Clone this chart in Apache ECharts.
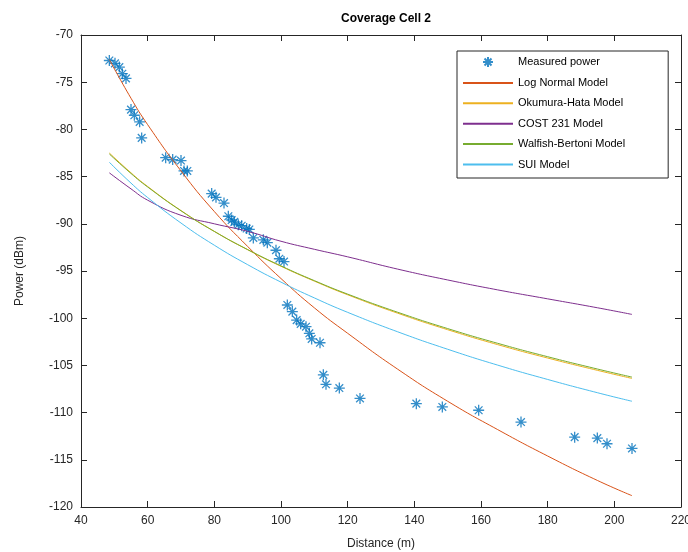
<!DOCTYPE html>
<html>
<head>
    <meta charset="utf-8">
    <title>Coverage Cell 2</title>
    <script src="https://cdn.jsdelivr.net/npm/echarts@6/dist/echarts.min.js"></script>
</head>
<body style="margin:0">
<div id="chart" style="width: 688px;height:552px;"></div>
</body>

<script type="text/javascript">

    // measured points (distance m, power dBm)
    var measDist = [48.5, 50.2, 51.5, 52.4, 53.5, 55.0, 56.0, 57.6, 58.2, 65.4, 67.5, 70.0, 70.9, 71.9,
        79.2, 80.5, 82.9, 84.2, 85.2, 86.0, 87.2, 88.2, 89.7, 90.5, 91.7, 94.7, 95.9, 98.5, 99.5, 100.9,
        101.9, 103.4, 104.7, 105.9, 107.5, 108.5, 109.2, 111.7, 112.7, 113.5, 117.5, 123.7,
        140.6, 148.4, 159.3, 172.0, 188.1, 194.9, 197.8, 205.3];
    var measPower = [-72.7, -73.0, -73.4, -74.1, -74.6, -77.9, -78.5, -79.2, -80.9, -83.0, -83.2, -83.3, -84.4, -84.4,
        -86.8, -87.2, -87.8, -89.2, -89.6, -89.8, -90.1, -90.2, -90.5, -90.6, -91.5, -91.7, -92.0, -92.8, -93.7, -94.0,
        -98.6, -99.3, -100.2, -100.6, -100.9, -101.6, -102.2, -102.6, -106.0, -107.0, -107.4, -108.5,
        -109.05, -109.4, -109.75, -111.0, -112.6, -112.7, -113.3, -113.8];

    // model curves, read at these distances
    var modelDist = [48.5, 55, 60, 70, 80, 90, 100, 110, 120, 135, 150, 165, 180, 195, 205.3];
    var logNormal = [-72.6, -76.7, -79.5, -84.4, -88.7, -92.4, -95.8, -98.9, -101.6, -105.4, -108.8, -111.8, -114.6, -117.2, -118.8];
    var okumura = [-82.5, -84.6, -86.05, -88.6, -90.8, -92.75, -94.5, -96.07, -97.52, -99.47, -101.22, -102.8, -104.22, -105.53, -106.38];
    var cost231 = [-84.6, -86.3, -87.5, -89.1, -90.0, -90.8, -91.85, -92.7, -93.5, -94.8, -95.95, -97.0, -97.95, -98.9, -99.6];
    var walfish = [-82.6, -84.67, -86.1, -88.62, -90.81, -92.73, -94.46, -96.02, -97.45, -99.37, -101.1, -102.66, -104.08, -105.39, -106.24];
    var sui = [-83.48, -85.69, -87.22, -89.92, -92.27, -94.33, -96.18, -97.85, -99.38, -101.44, -103.29, -104.97, -106.49, -107.9, -108.8];

    var xTicks = [40, 220, 20];
    var yTicks = [-120, -70, 5];

    function pairs(xs, ys) {
        return xs.map(function (x, i) { return [x, ys[i]]; });
    }

    var star = 'path://M0,5L10,5M5,0L5,10M1.5,1.5L8.5,8.5M1.5,8.5L8.5,1.5';
    var axisColor = '#262626';

    function lineSeries(name, data, color) {
        return {
            name: name, type: 'line', data: pairs(modelDist, data),
            symbol: 'none', smooth: true,
            lineStyle: {color: color, width: 1}, itemStyle: {color: color}
        };
    }

    function axisBase(show) {
        return {
            axisLine: {show: true, onZero: false, lineStyle: {color: axisColor, width: 1}},
            axisTick: {show: true, inside: true, length: 6, lineStyle: {color: axisColor}},
            axisLabel: {show: show, color: axisColor, fontSize: 12, fontFamily: 'Liberation Sans'},
            splitLine: {show: false}
        };
    }

    var noMark = {opacity: 0};

    var chart = echarts.init(document.getElementById('chart'));

    chart.setOption({
        animation: false,
        backgroundColor: '#fff',
        title: {
            text: 'Coverage Cell 2', left: 381, top: 8, textAlign: 'center',
            textStyle: {fontSize: 12, fontWeight: 'bold', color: '#000', fontFamily: 'Liberation Sans'}
        },
        legend: {
            orient: 'vertical', left: 457, top: 51,
            padding: [5, 43, 8, 5], itemWidth: 50, itemHeight: 10, itemGap: 9.4,
            borderColor: axisColor, borderWidth: 1, backgroundColor: '#fff',
            selectedMode: false,
            textStyle: {fontSize: 11, color: '#000', fontFamily: 'Liberation Sans'},
            data: [
                {name: 'Measured power'},
                {name: 'Log Normal Model', itemStyle: noMark},
                {name: 'Okumura-Hata Model', itemStyle: noMark},
                {name: 'COST 231 Model', itemStyle: noMark},
                {name: 'Walfish-Bertoni Model', itemStyle: noMark},
                {name: 'SUI Model', itemStyle: noMark}
            ]
        },
        grid: {left: 81, right: 7, top: 35, bottom: 45, outerBoundsMode: 'none'},
        xAxis: [
            Object.assign(axisBase(true), {
                type: 'value', min: xTicks[0], max: xTicks[1], interval: xTicks[2],
                name: 'Distance (m)', nameLocation: 'middle', nameGap: 31,
                nameTextStyle: {fontSize: 12, color: axisColor, fontFamily: 'Liberation Sans'}
            }),
            Object.assign(axisBase(false), {
                type: 'value', position: 'top', min: xTicks[0], max: xTicks[1], interval: xTicks[2]
            })
        ],
        yAxis: [
            Object.assign(axisBase(true), {
                type: 'value', min: yTicks[0], max: yTicks[1], interval: yTicks[2],
                name: 'Power (dBm)', nameLocation: 'middle', nameGap: 55,
                nameTextStyle: {fontSize: 12, color: axisColor, fontFamily: 'Liberation Sans'}
            }),
            Object.assign(axisBase(false), {
                type: 'value', position: 'right', min: yTicks[0], max: yTicks[1], interval: yTicks[2]
            })
        ],
        series: [
            {
                name: 'Measured power', type: 'scatter', data: pairs(measDist, measPower),
                symbol: star, symbolSize: 11,
                itemStyle: {color: '#0072BD', borderColor: '#0072BD', borderWidth: 1.3}
            },
            lineSeries('Log Normal Model', logNormal, '#D95319'),
            lineSeries('Okumura-Hata Model', okumura, '#EDB120'),
            lineSeries('COST 231 Model', cost231, '#7E2F8E'),
            lineSeries('Walfish-Bertoni Model', walfish, '#77AC30'),
            lineSeries('SUI Model', sui, '#4DBEEE')
        ]
    });

</script>
</html>
